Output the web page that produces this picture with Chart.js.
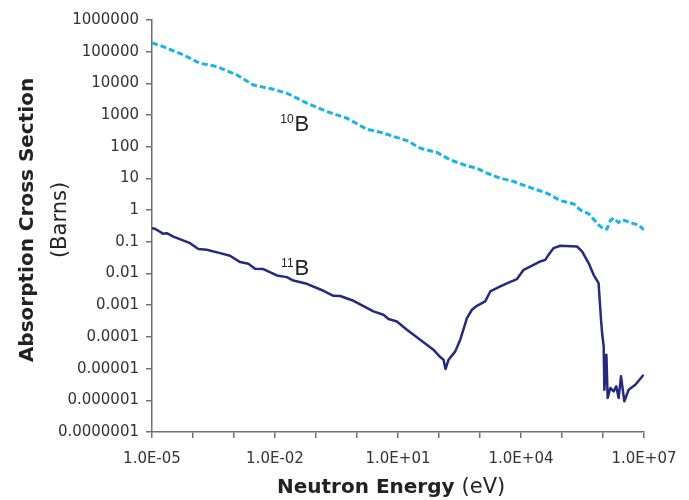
<!DOCTYPE html>
<html>
<head>
<meta charset="utf-8">
<script src="https://cdn.jsdelivr.net/npm/chart.js@4.4.1/dist/chart.umd.min.js"></script>
<style>
    html, body { margin: 0; padding: 0; background: #ffffff; }
    #wrap { width: 689px; height: 500px; position: relative; }
</style>
</head>
<body>
<div id="wrap"><canvas id="boronChart"></canvas></div>
<script>
// 10B absorption cross section (dashed cyan), energy in eV, sigma in barns
const b10Energy = [1e-5, 1.89e-5, 5.81e-5, 1.49e-4, 3.8e-4, 1.17e-3, 2.97e-3, 9.1e-3, 1.94e-2, 5.97e-2,
    0.184, 0.565, 1.74, 4.04, 7.1, 16.5, 34.8, 89, 188, 480, 841, 1480, 2830, 6600, 1.4e4, 4.3e4,
    9.1e4, 1.92e5, 2.8e5, 4.46e5, 7.8e5, 1.04e6, 1.25e6, 1.51e6, 1.82e6, 2.4e6, 2.91e6, 3.86e6,
    5.1e6, 7.4e6, 1e7];
const b10Sigma = [1.88e5, 1.44e5, 7.9e4, 4.3e4, 3.4e4, 1.85e4, 8900, 6500, 4900, 2400,
    1290, 796, 358, 280, 220, 157, 90, 66, 38.5, 25, 21, 14.7, 10.7, 8.0, 5.6, 3.44,
    2.0, 1.58, 1.02, 0.77, 0.344, 0.252, 0.252, 0.47, 0.56, 0.41, 0.50, 0.44,
    0.39, 0.34, 0.24];

// 11B absorption cross section (solid navy)
const b11Energy = [1e-5, 1.18e-5, 1.89e-5, 2.29e-5, 3.31e-5, 8.5e-5, 1.35e-4, 2.16e-4, 4.57e-4, 8.0e-4,
    1.41e-3, 2.24e-3, 3.26e-3, 5.2e-3, 1.11e-2, 1.94e-2, 2.81e-2, 5.97e-2, 0.152, 0.266, 0.388,
    0.82, 2.52, 4.42, 5.86, 9.4, 16.5, 34.8, 73, 107, 129, 144, 171, 249, 330, 480, 636, 841,
    1340, 1780, 3120, 4980, 7980, 1.16e4, 2.03e4, 2.95e4, 3.91e4, 4.71e4, 6.24e4, 9.1e4,
    2.32e5, 3.08e5, 4.46e5, 5.9e5, 7.8e5, 8.95e5, 9.5e5, 1.04e6, 1.08e6, 1.21e6, 1.30e6,
    1.51e6, 1.82e6, 2.11e6, 2.41e6, 2.75e6, 3.31e6, 4.22e6, 6.15e6, 9.8e6];
const b11Sigma = [0.271, 0.258, 0.179, 0.188, 0.147, 0.091, 0.059, 0.056, 0.044, 0.0363,
    0.023, 0.0203, 0.0141, 0.0138, 8.7e-3, 7.7e-3, 6.0e-3, 4.75e-3, 2.86e-3, 1.99e-3, 1.95e-3,
    1.38e-3, 6.4e-4, 5.0e-4, 3.66e-4, 3.08e-4, 1.69e-4, 8.2e-5, 3.95e-5, 2.32e-5, 1.91e-5, 9.7e-6, 1.91e-5, 3.5e-5, 8.2e-5, 3.94e-4, 7.2e-4, 9.6e-4,
    1.32e-3, 2.72e-3, 3.91e-3, 5.2e-3, 6.7e-3, 1.31e-2, 1.89e-2, 0.024, 0.0271, 0.039, 0.0635, 0.075,
    0.0713, 0.0497, 0.0214, 9.1e-3, 5.0e-3, 3.48e-4, 1.33e-4, 5.0e-5, 2.16e-6, 2.75e-5, 1.19e-6,
    2.45e-6, 1.91e-6, 2.75e-6, 1.19e-6, 5.7e-6, 9.3e-7, 2.16e-6, 3.1e-6, 6.4e-6];

// tick labels (powers of ten)
const xTickExponents = [-5, -4, -3, -2, -1, 0, 1, 2, 3, 4, 5, 6, 7];
const xLabelExponents = [-5, -2, 1, 4, 7];
const yTickExponents = [6, 5, 4, 3, 2, 1, 0, -1, -2, -3, -4, -5, -6, -7];

const toPoints = (xs, ys) => xs.map((x, i) => ({ x: x, y: ys[i] }));
const expOf = v => Math.round(Math.log10(v));

function xLabel(value) {
    const e = expOf(value);
    if (!xLabelExponents.includes(e)) return '';
    return '1.0E' + (e < 0 ? '-' : '+') + String(Math.abs(e)).padStart(2, '0');
}

function yLabel(value) {
    const e = expOf(value);
    if (e >= 0) return '1' + '0'.repeat(e);
    return '0.' + '0'.repeat(-e - 1) + '1';
}

const axisGray = '#707070';
const textColor = '#333333';

// axis titles (mixed bold / normal) and isotope labels
const textPlugin = {
    id: 'boronText',
    afterDraw(chart) {
        const ctx = chart.ctx;
        const xs = chart.scales.x;
        const ys = chart.scales.y;
        ctx.save();
        ctx.fillStyle = '#222222';

        // y axis title
        ctx.save();
        ctx.translate(33, 220);
        ctx.rotate(-Math.PI / 2);
        ctx.textAlign = 'center';
        ctx.textBaseline = 'alphabetic';
        ctx.font = 'bold 20px "DejaVu Sans"';
        ctx.fillText('Absorption Cross Section', 0, 0);
        ctx.restore();
        ctx.save();
        ctx.translate(66, 220);
        ctx.rotate(-Math.PI / 2);
        ctx.textAlign = 'center';
        ctx.font = '21px "DejaVu Sans"';
        ctx.fillText('(Barns)', 0, 0);
        ctx.restore();

        // x axis title
        ctx.textAlign = 'left';
        ctx.textBaseline = 'alphabetic';
        ctx.font = 'bold 20px "DejaVu Sans"';
        const boldPart = 'Neutron Energy ';
        ctx.fillText(boldPart, 277, 493);
        const w = ctx.measureText(boldPart).width;
        ctx.font = '21px "DejaVu Sans"';
        ctx.fillText('(eV)', 277 + w, 493);

        // isotope labels
        const iso = [
            { sup: '10', x: xs.getPixelForValue(0.03), y: ys.getPixelForValue(324) },
            { sup: '11', x: xs.getPixelForValue(0.03), y: ys.getPixelForValue(0.0091) }
        ];
        iso.forEach(l => {
            ctx.textAlign = 'right';
            ctx.font = '12px "Liberation Sans"';
            ctx.fillText(l.sup, l.x - 1, l.y - 8);
            ctx.textAlign = 'left';
            ctx.font = '22px "Liberation Sans"';
            ctx.fillText('B', l.x, l.y);
        });
        ctx.restore();
    }
};

const ctx = document.getElementById('boronChart').getContext('2d');
new Chart(ctx, {
    type: 'line',
    data: {
        datasets: [
            {
                label: '10B',
                data: toPoints(b10Energy, b10Sigma),
                borderColor: '#17b4e6',
                borderWidth: 3,
                borderDash: [6, 3],
                pointRadius: 0,
                tension: 0,
                fill: false
            },
            {
                label: '11B',
                data: toPoints(b11Energy, b11Sigma),
                borderColor: '#262a7f',
                borderWidth: 2.5,
                borderJoinStyle: 'round',
                pointRadius: 0,
                tension: 0,
                fill: false
            }
        ]
    },
    options: {
        responsive: true,
        maintainAspectRatio: false,
        animation: false,
        layout: { padding: { top: 20, right: 45, left: 0, bottom: 0 } },
        plugins: {
            legend: { display: false },
            tooltip: { enabled: false }
        },
        scales: {
            x: {
                type: 'logarithmic',
                min: 1e-5,
                max: 1e7,
                afterBuildTicks: scale => {
                    scale.ticks = xTickExponents.map(e => ({ value: Number('1e' + e) }));
                },
                afterFit: scale => { scale.height = 68; },
                ticks: {
                    callback: xLabel,
                    autoSkip: false,
                    maxRotation: 0,
                    padding: 12,
                    color: textColor,
                    font: { family: '"DejaVu Sans"', size: 15 }
                },
                grid: {
                    drawOnChartArea: false,
                    drawTicks: true,
                    tickLength: 6,
                    color: axisGray,
                    lineWidth: 1.5
                },
                border: { display: true, color: axisGray, width: 1.5 }
            },
            y: {
                type: 'logarithmic',
                min: 1e-7,
                max: 1e6,
                afterBuildTicks: scale => {
                    scale.ticks = yTickExponents.map(e => ({ value: Number('1e' + e) }));
                },
                afterFit: scale => { scale.width = 152; },
                ticks: {
                    callback: yLabel,
                    autoSkip: false,
                    padding: 7,
                    color: textColor,
                    font: { family: '"DejaVu Sans"', size: 15 }
                },
                grid: {
                    drawOnChartArea: false,
                    drawTicks: true,
                    tickLength: 6,
                    color: axisGray,
                    lineWidth: 1.5
                },
                border: { display: true, color: axisGray, width: 1.5 }
            }
        }
    },
    plugins: [textPlugin]
});
</script>
</body>
</html>
